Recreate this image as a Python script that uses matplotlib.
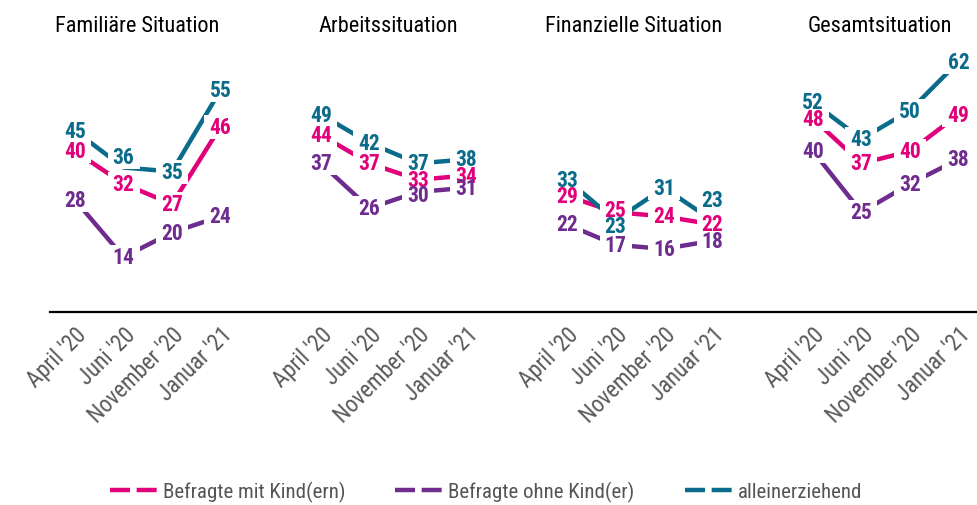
import matplotlib
matplotlib.use("Agg")
import matplotlib.pyplot as plt
from matplotlib.lines import Line2D
from matplotlib.path import Path
from matplotlib import font_manager

names = {f.name for f in font_manager.fontManager.ttflist}
FONT = next(f for f in ["Arial Narrow", "Liberation Sans Narrow", "Roboto Condensed",
                        "Pragati Narrow", "Liberation Sans"] if f in names)
plt.rcParams["font.family"] = [FONT, "DejaVu Sans"]

panels = ["Familiäre Situation", "Arbeitssituation", "Finanzielle Situation", "Gesamtsituation"]
periods = ["April '20", "Juni '20", "November '20", "Januar '21"]
series_names = ["Befragte mit Kind(ern)", "Befragte ohne Kind(er)", "alleinerziehend"]
colors = ["#e2007a", "#6e2c8f", "#0a6b8a"]

mit_kind = [[40, 32, 27, 46], [44, 37, 33, 34], [29, 25, 24, 22], [48, 37, 40, 49]]
ohne_kind = [[28, 14, 20, 24], [37, 26, 30, 31], [22, 17, 16, 18], [40, 25, 32, 38]]
allein = [[45, 36, 35, 55], [49, 42, 37, 38], [33, 23, 31, 23], [52, 43, 50, 62]]
series = [mit_kind, ohne_kind, allein]

# label nudges (series, panel, point) -> offset in y units, to keep labels apart
label_nudge = {(2, 0, 1): 2.5, (2, 2, 3): 5.0, (2, 2, 1): -1.3, (0, 2, 1): 0.5,
               (1, 1, 2): -0.7}

W, H = 978, 506
fig = plt.figure(figsize=(W / 100, H / 100), dpi=100)

first_x = [75, 321, 567, 813]
step = 48.5
ymax = 70
y0_px = 315
px_per_unit = 4.07
ax_h = ymax * px_per_unit
title_x = [137, 388, 634, 880]

# rectangular white knock-out marker (wider than tall) behind each value label
knock = Path([(-1.0, -0.72), (1.0, -0.72), (1.0, 0.72), (-1.0, 0.72), (-1.0, -0.72)],
             [Path.MOVETO, Path.LINETO, Path.LINETO, Path.LINETO, Path.CLOSEPOLY])

for p in range(4):
    left = first_x[p] - 0.5 * step
    width = 3.9 * step
    ax = fig.add_axes([left / W, (H - y0_px) / H, width / W, ax_h / H])
    ax.set_xlim(-0.5, 3.4)
    ax.set_ylim(0, ymax)
    for s in ax.spines.values():
        s.set_visible(False)
    ax.set_yticks([])
    ax.set_xticks(range(4))
    ax.set_xticklabels(periods, rotation=45, ha="right", va="top",
                       rotation_mode="anchor", fontsize=16.5, color="#595959")
    ax.tick_params(axis="x", length=0, pad=6)
    for si in range(3):
        vals = series[si][p]
        ax.plot(range(4), vals, color=colors[si], lw=3.2, solid_capstyle="butt", zorder=1)
    for si in range(3):
        vals = series[si][p]
        ys = [v + label_nudge.get((si, p, i), 0.0) for i, v in enumerate(vals)]
        ax.scatter(range(4), ys, marker=knock, s=23.5 ** 2, c="white", linewidths=0,
                   zorder=2)
        for i, v in enumerate(vals):
            ax.text(i, ys[i], str(v), ha="center", va="center", fontsize=15.5,
                    fontweight="bold", color=colors[si], zorder=3 + si)
    fig.text(title_x[p] / W, 1 - 27 / H, panels[p], ha="center", va="center",
             fontsize=16, color="black")

fig.add_artist(Line2D([50 / W, 1.0], [1 - 313 / H, 1 - 313 / H], color="black",
                      lw=1.6, transform=fig.transFigure))

handles = [Line2D([0], [0], color=c, lw=3.2, dashes=(4.5, 1.5)) for c in colors]
fig.legend(handles, series_names, loc="center", bbox_to_anchor=(486 / W, 1 - 492 / H),
           ncol=3, frameon=False, fontsize=15, handlelength=2.25,
           handletextpad=0.3, columnspacing=2.4, labelcolor="#555555")

fig.savefig("out.png", dpi=100)
